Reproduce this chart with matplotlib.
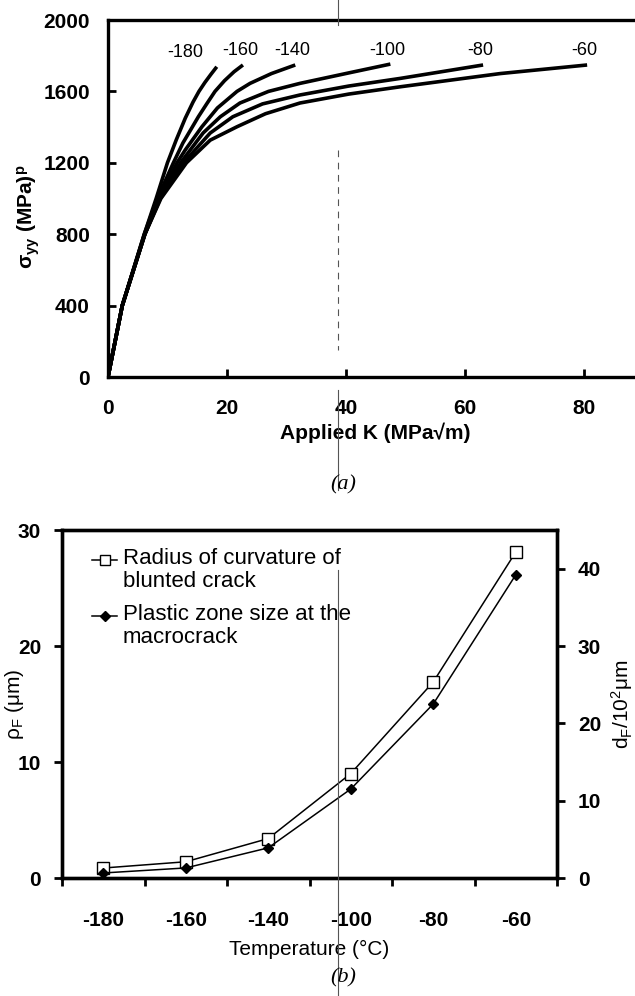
import matplotlib
matplotlib.use("Agg")
import matplotlib.pyplot as plt
from matplotlib.lines import Line2D
import numpy as np

plt.rcParams["font.family"] = ["Liberation Sans", "DejaVu Sans"]
plt.rcParams["mathtext.fontset"] = "custom"
plt.rcParams["mathtext.rm"] = "Liberation Sans"
plt.rcParams["mathtext.it"] = "Liberation Sans:italic"
plt.rcParams["mathtext.bf"] = "Liberation Sans:bold"

# (a) local stress vs applied K, one curve per test temperature
temps_a = ["-180", "-160", "-140", "-100", "-80", "-60"]
k_curves = [
    [0, 2.4, 6.1, 8.1, 10.0, 11.5, 13.0, 14.3, 15.3, 16.3, 17.3, 18.3],
    [0, 2.4, 6.1, 8.3, 11.0, 12.6, 14.0, 15.2, 16.6, 18.0, 19.6, 21.2, 22.7],
    [0, 2.4, 6.2, 8.5, 11.6, 13.0, 15.8, 18.4, 21.7, 23.9, 27.5, 31.5],
    [0, 2.4, 6.2, 8.7, 12.2, 16.0, 18.9, 22.2, 27.0, 32.3, 40.7, 47.5],
    [0, 2.4, 6.2, 8.8, 12.7, 17.2, 21.0, 26.0, 32.3, 40.5, 49.2, 63.1],
    [0, 2.4, 6.2, 8.9, 13.2, 17.2, 21.7, 26.5, 32.3, 40.5, 49.2, 66.0, 80.6],
]
s_curves = [
    [0, 400, 800, 1000, 1200, 1330, 1450, 1540, 1600, 1650, 1695, 1738],
    [0, 400, 800, 1000, 1200, 1311, 1390, 1458, 1530, 1600, 1660, 1710, 1748],
    [0, 400, 800, 1000, 1200, 1272, 1402, 1507, 1600, 1645, 1700, 1748],
    [0, 400, 800, 1000, 1200, 1367, 1458, 1535, 1600, 1645, 1705, 1753],
    [0, 400, 800, 1000, 1200, 1367, 1458, 1530, 1580, 1630, 1673, 1748],
    [0, 400, 800, 1000, 1200, 1327, 1402, 1475, 1535, 1585, 1626, 1700, 1748],
]

# (b) blunted-crack radius and plastic zone size vs temperature
temps_b = ["-180", "-160", "-140", "-100", "-80", "-60"]
rho_f = [0.86, 1.4, 3.4, 9.0, 16.9, 28.1]
d_f = [0.65, 1.3, 3.9, 11.5, 22.5, 39.2]

W, H = 635, 996
fig = plt.figure(figsize=(W / 100, H / 100), dpi=100)

# ---------- panel (a) ----------
ax1 = fig.add_axes([108 / W, 1 - 377 / H, (643 - 108) / W, (377 - 20) / H])
for k, s in zip(k_curves, s_curves):
    ax1.plot(k, s, color="black", lw=2.6, solid_capstyle="butt", solid_joinstyle="round", zorder=3)
for i, (k, s, lab) in enumerate(zip(k_curves, s_curves, temps_a)):
    dx = -23 if i == 0 else -2
    ax1.annotate(lab, xy=(k[-1], s[-1]), xytext=(dx, 4), textcoords="offset points",
                 ha="center", va="bottom", fontsize=13)
ax1.set_xlim(0, 90)
ax1.set_ylim(0, 2000)
ax1.set_xticks([0, 20, 40, 60, 80])
ax1.set_yticks([0, 400, 800, 1200, 1600, 2000])
ax1.tick_params(direction="in", length=6, width=2, labelsize=15)
ax1.tick_params(axis="x", pad=16)
ax1.tick_params(axis="y", pad=13)
for lbl in ax1.get_xticklabels() + ax1.get_yticklabels():
    lbl.set_fontweight("bold")
for side in ["left", "bottom", "top"]:
    ax1.spines[side].set_linewidth(2.4)
ax1.spines["right"].set_visible(False)
ax1.set_xlabel("Applied K (MPa√m)", fontsize=15, fontweight="bold", labelpad=3)
ax1.set_ylabel(r"σ$_{\mathbf{yy}}$ (MPa)$^{\mathbf{p}}$", fontsize=15, fontweight="bold")
ax1.yaxis.set_label_coords(-0.123, 0.45)

# ---------- panel (b) ----------
ax2 = fig.add_axes([62 / W, 1 - 878 / H, 495 / W, 348 / H])
xb = np.arange(len(temps_b))
ax2.plot(xb, rho_f, color="black", lw=1.1, marker="s", ms=8, mfc="white", mec="black", mew=1.0, zorder=3)
ax2.set_xlim(-0.5, len(temps_b) - 0.5)
ax2.set_ylim(0, 30)
ax2.set_yticks([0, 10, 20, 30])
ax2.set_xticks(np.arange(len(temps_b) + 1) - 0.5)
ax2.set_xticklabels([])
ax2.set_xticks(xb, minor=True)
ax2.set_xticklabels(temps_b, minor=True)
ax2.tick_params(axis="x", which="major", direction="out", length=6, width=2)
ax2.tick_params(axis="x", which="minor", length=0, pad=24, labelsize=15)
ax2.tick_params(axis="y", direction="out", length=6, width=2, pad=9, labelsize=15)
for lbl in ax2.get_xticklabels(minor=True) + ax2.get_yticklabels():
    lbl.set_fontweight("bold")
for side in ax2.spines:
    ax2.spines[side].set_linewidth(2.4)
ax2.set_xlabel("Temperature (°C)", fontsize=15, labelpad=7)
ax2.set_ylabel(r"ρ$_\mathrm{F}$ (μm)", fontsize=15)
ax2.yaxis.set_label_coords(-0.072, 0.5)

ax3 = ax2.twinx()
ax3.plot(xb, d_f, color="black", lw=1.1, marker="D", ms=5.5, mfc="black", mec="black", zorder=3)
ax3.set_ylim(0, 45)
ax3.set_yticks([0, 10, 20, 30, 40])
ax3.tick_params(axis="y", direction="out", length=6, width=2, pad=9, labelsize=15)
for lbl in ax3.get_yticklabels():
    lbl.set_fontweight("bold")
for side in ax3.spines:
    ax3.spines[side].set_linewidth(2.4)
ax3.set_ylabel(r"d$_\mathrm{F}$/10$^2$μm", fontsize=15, labelpad=6)

# legend drawn by hand so the symbol sits on the first text line
legend_entries = [
    ("Radius of curvature of\nblunted crack", dict(marker="s", ms=7, mfc="white", mec="black", mew=1.0)),
    ("Plastic zone size at the\nmacrocrack", dict(marker="D", ms=5, mfc="black", mec="black")),
]
for i, (txt, mk) in enumerate(legend_entries):
    yc = 0.914 - i * 0.161
    ax2.add_line(Line2D([0.061, 0.111], [yc, yc], transform=ax2.transAxes, color="black", lw=1.1))
    ax2.add_line(Line2D([0.086], [yc], transform=ax2.transAxes, color="black", **mk))
    ax2.text(0.123, yc + 0.033, txt, transform=ax2.transAxes, ha="left", va="top",
             fontsize=16, linespacing=1.1)

# panel captions
fig.text(343 / W, 1 - 485 / H, "(a)", ha="center", va="center", fontsize=16,
         family="Liberation Serif", style="italic")
fig.text(343 / W, 1 - 978 / H, "(b)", ha="center", va="center", fontsize=16,
         family="Liberation Serif", style="italic")

# faint vertical scan line running through the page
xs = 338 / W
for y0, y1, ls in [(0, 25, "-"), (150, 350, (0, (6, 5))), (390, 490, "-"), (570, 996, "-")]:
    fig.add_artist(Line2D([xs, xs], [1 - y0 / H, 1 - y1 / H], transform=fig.transFigure,
                          color="#555555", lw=0.8, ls=ls))

fig.savefig("out.png", dpi=100)
